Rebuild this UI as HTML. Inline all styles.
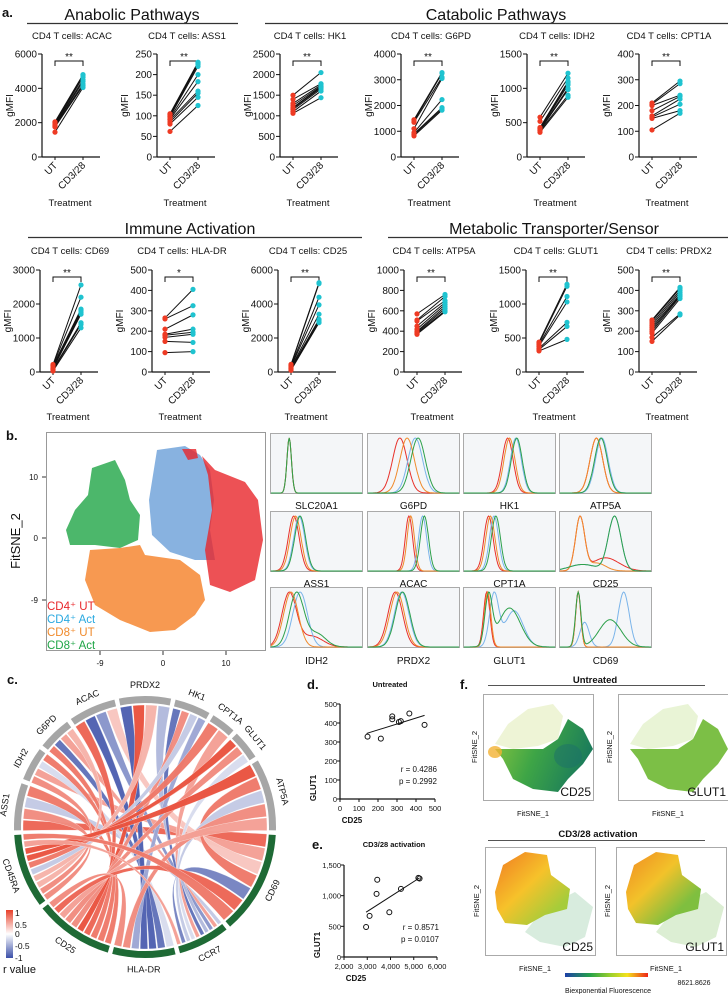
<!DOCTYPE html>
<html><head><meta charset="utf-8"><style>
html,body{margin:0;padding:0;background:#fff}
svg{display:block;font-family:"Liberation Sans",sans-serif}
</style></head><body>
<svg id="fig" width="728" height="994" viewBox="0 0 728 994" xmlns="http://www.w3.org/2000/svg">
<defs>
<linearGradient id="cbar" x1="0" x2="1" y1="0" y2="0"><stop offset="0" stop-color="#1d3fa8"/><stop offset="0.3" stop-color="#25a24a"/><stop offset="0.55" stop-color="#9cd02c"/><stop offset="0.75" stop-color="#f4e21c"/><stop offset="1" stop-color="#ee2418"/></linearGradient>
<linearGradient id="rbar" x1="0" x2="0" y1="0" y2="1"><stop offset="0" stop-color="#e8402a"/><stop offset="0.5" stop-color="#ffffff"/><stop offset="1" stop-color="#3b4fa8"/></linearGradient>
<linearGradient id="ucd25" x1="0" x2="1" y1="0" y2="0.3"><stop offset="0" stop-color="#8cc63f"/><stop offset="0.5" stop-color="#3ea546"/><stop offset="1" stop-color="#1c7d5a"/></linearGradient>
<linearGradient id="act" x1="0" x2="1" y1="0" y2="1"><stop offset="0" stop-color="#f07a22"/><stop offset="0.45" stop-color="#f6c22a"/><stop offset="0.8" stop-color="#a6cc3a"/></linearGradient>
<linearGradient id="act2" x1="0" x2="1" y1="0" y2="1"><stop offset="0" stop-color="#f08a22"/><stop offset="0.4" stop-color="#f2c22a"/><stop offset="0.75" stop-color="#7fbf3f"/></linearGradient>
</defs>
<g id="root"></g>
</svg>
<script>
// ---------- Panel a data ----------
const acacUT=[1450,1750,1800,1850,1900,1950,2000,2050];
const acacCD=[4050,4150,4250,4400,4500,4650,4750,4800];
const acacTicks=[0,2000,4000,6000];
const ass1UT=[62,80,85,90,92,95,98,100,103,105];
const ass1CD=[125,145,155,160,183,200,220,225,228,230];
const ass1Ticks=[0,50,100,150,200,250];
const hk1UT=[1060,1100,1150,1180,1200,1250,1300,1400,1500];
const hk1CD=[1440,1600,1650,1680,1700,1720,1750,1780,2050];
const hk1Ticks=[0,500,1000,1500,2000,2500];
const g6pdUT=[820,870,900,950,1100,1350,1400,1450];
const g6pdCD=[1820,1870,1920,2230,3050,3100,3250,3280];
const g6pdTicks=[0,1000,2000,3000,4000];
const idh2UT=[360,380,390,400,410,420,430,520,580];
const idh2CD=[870,900,980,1000,1050,1080,1100,1150,1220];
const idh2Ticks=[0,500,1000,1500];
const cpt1aUT=[105,150,155,160,180,200,205,210];
const cpt1aCD=[170,180,205,225,235,240,285,295];
const cpt1aTicks=[0,100,200,300,400];
const cd69UT=[30,60,80,100,120,150,180,200,220];
const cd69CD=[1300,1400,1450,1700,1750,1800,1850,2200,2560];
const cd69Ticks=[0,1000,2000,3000];
const hladrUT=[95,150,170,180,185,210,260,265];
const hladrCD=[100,145,185,195,210,280,325,405];
const hladrTicks=[0,100,200,300,400,500];
const cd25UT=[100,150,200,250,300,350,400,450];
const cd25CD=[2900,3000,3100,3400,3950,4400,5200,5250];
const cd25Ticks=[0,2000,4000,6000];
const atp5aUT=[370,380,390,400,420,450,500,510,570];
const atp5aCD=[590,600,620,640,660,680,700,740,760];
const atp5aTicks=[0,200,400,600,800,1000];
const glut1UT=[310,330,350,380,400,420,440];
const glut1CD=[480,670,730,1030,1110,1260,1290];
const glut1Ticks=[0,500,1000,1500];
const prdx2UT=[150,170,190,200,210,220,230,240,250,255];
const prdx2CD=[280,285,360,370,375,380,390,400,410,415];
const prdx2Ticks=[0,100,200,300,400,500];

// ---------- Panel d/e data ----------
const dCD25=[145,215,275,275,310,320,365,445];
const dGLUT1=[328,318,435,420,405,410,450,390];
const dFit=[[140,345],[445,440]];
const dXTicks=[0,100,200,300,400,500];
const dYTicks=[0,100,200,300,400,500];
const eCD25=[2950,3100,3400,3430,3950,4450,5200,5250];
const eGLUT1=[490,670,1030,1260,730,1110,1290,1280];
const eFit=[[2950,730],[5250,1290]];
const eXTicks=[2000,3000,4000,5000,6000];
const eYTicks=[0,500,1000,1500];

// ---------- Panel b histogram data (mixtures: [mu, sd, weight]) ----------
const histMarkers=["SLC20A1","G6PD","HK1","ATP5A","ASS1","ACAC","CPT1A","CD25","IDH2","PRDX2","GLUT1","CD69"];
const histRed=[[[.2,.025,1]],[[.35,.08,1]],[[.48,.06,1]],[[.4,.07,1]],[[.25,.06,1]],[[.45,.04,1]],[[.27,.05,1]],[[.22,.05,1],[.5,.15,.25]],[[.2,.08,1],[.45,.12,.2]],[[.3,.08,1]],[[.25,.035,1]],[[.2,.028,1]]];
const histBlue=[[[.2,.025,1]],[[.52,.08,1]],[[.57,.06,1]],[[.46,.07,1]],[[.31,.06,1]],[[.6,.045,1]],[[.33,.05,1]],[[.6,.07,1],[.25,.15,.12]],[[.32,.08,1]],[[.37,.08,1]],[[.33,.05,1],[.55,.1,.7]],[[.27,.05,.45],[.7,.06,1]]];
const histOrange=[[[.2,.025,1]],[[.43,.08,1]],[[.5,.06,1]],[[.4,.07,1]],[[.27,.06,1]],[[.47,.04,1]],[[.29,.05,1]],[[.22,.05,1],[.4,.1,.15]],[[.22,.08,1]],[[.32,.08,1]],[[.26,.035,1]],[[.2,.028,1]]];
const histGreen=[[[.2,.025,1]],[[.55,.08,1]],[[.58,.06,1]],[[.45,.07,1]],[[.32,.06,1]],[[.62,.045,1]],[[.35,.05,1]],[[.6,.07,1],[.25,.15,.12]],[[.28,.08,1],[.5,.1,.25]],[[.38,.08,1]],[[.27,.04,1],[.5,.12,.8]],[[.2,.03,1],[.55,.12,.5]]];

// ---------- Panel c chord data ----------
const chordSegments=["ASS1","IDH2","G6PD","ACAC","PRDX2","HK1","CPT1A","GLUT1","ATP5A","CD69","CCR7","HLA-DR","CD25","CD45RA"];
const chordFrom=["ASS1","ASS1","ASS1","ASS1","IDH2","IDH2","IDH2","IDH2","G6PD","G6PD","G6PD","G6PD","ACAC","ACAC","ACAC","ACAC","PRDX2","PRDX2","PRDX2","PRDX2","HK1","HK1","HK1","HK1","CPT1A","CPT1A","GLUT1","GLUT1","GLUT1","ATP5A","ATP5A","ATP5A","ATP5A","ATP5A","CD69","CD69","HLA-DR","CD45RA","CD45RA"];
const chordTo=["CD69","CD45RA","CCR7","CD25","CD45RA","CD69","HLA-DR","CD25","CD25","HLA-DR","CCR7","CD45RA","CD25","HLA-DR","CCR7","CD69","HLA-DR","CD25","CD45RA","CCR7","CCR7","CD25","CD45RA","HLA-DR","CD45RA","CCR7","CD45RA","CD25","CCR7","CD45RA","CD69","CCR7","HLA-DR","CD25","CCR7","CD25","CD25","CCR7","CD69"];
const chordR=[0.8,0.6,-0.3,0.7,0.6,0.5,-0.2,0.7,0.7,-0.8,0.5,0.4,0.8,-0.9,-0.6,0.3,-0.9,0.9,0.4,-0.4,-0.8,0.6,-0.3,-0.5,0.7,0.5,0.9,0.6,-0.2,0.9,0.7,-0.3,0.6,0.5,-0.7,0.8,0.6,0.5,0.7];

const NS="http://www.w3.org/2000/svg";
const root=document.getElementById('root');
function mk(tag,attrs,parent,text){const e=document.createElementNS(NS,tag);for(const k in attrs)e.setAttribute(k,attrs[k]);if(text!==undefined)e.textContent=text;(parent||root).appendChild(e);return e;}
function T(x,y,s,size,anchor,parent,extra){const a={x:x,y:y,'font-size':size,'text-anchor':anchor||'start',fill:'#111'};if(extra)for(const k in extra)a[k]=extra[k];return mk('text',a,parent,s);}

// ---------- Panel a ----------
const gA=mk('g',{});


T(2,17,'a.',13,'start',gA,{'font-weight':'bold'});
T(132,20,'Anabolic Pathways',16,'middle',gA);
T(496,20,'Catabolic Pathways',16,'middle',gA);
T(190,234,'Immune Activation',16,'middle',gA);
T(554,234,'Metabolic Transporter/Sensor',16,'middle',gA);
mk('line',{x1:27,x2:238,y1:23.5,y2:23.5,stroke:'#333','stroke-width':1.2},gA);
mk('line',{x1:265,x2:728,y1:23.5,y2:23.5,stroke:'#333','stroke-width':1.2},gA);
mk('line',{x1:28,x2:362,y1:237.5,y2:237.5,stroke:'#333','stroke-width':1.2},gA);
mk('line',{x1:388,x2:728,y1:237.5,y2:237.5,stroke:'#333','stroke-width':1.2},gA);

function subplot(name,ax,row,ut,cd,ticks,sig){
  const g=mk('g',{},gA);
  
  
  const yTop=row?270:54,yBot=row?372:157,ymax=ticks[ticks.length-1];
  const y=v=>yBot-v/ymax*(yBot-yTop);
  const xU=ax+13,xC=ax+41;
  T(ax+30,row?254:39,'CD4 T cells: '+name,9.5,'middle',g);
  mk('line',{x1:ax,x2:ax,y1:yTop,y2:yBot,stroke:'#111','stroke-width':1.2},g);
  mk('line',{x1:ax,x2:ax+58,y1:yBot,y2:yBot,stroke:'#111','stroke-width':1.2},g);
  ticks.forEach(t=>{mk('line',{x1:ax-4,x2:ax,y1:y(t),y2:y(t),stroke:'#111'},g);T(ax-5,y(t)+3.5,String(t),10,'end',g);});
  [xU,xC].forEach(x=>mk('line',{x1:x,x2:x,y1:yBot,y2:yBot+3,stroke:'#111'},g));
  T(0,0,'gMFI',10,'middle',g,{transform:`translate(${ax-29},${(yTop+yBot)/2}) rotate(-90)`});
  T(0,0,'UT',10,'end',g,{transform:`translate(${xU+3},${yBot+9}) rotate(-45)`});
  T(0,0,'CD3/28',10,'end',g,{transform:`translate(${xC+3},${yBot+9}) rotate(-45)`});
  T(ax+28,row?420:206,'Treatment',9.5,'middle',g);
  const by=yTop+7;
  mk('path',{d:`M${xU},${by+5}V${by}H${xC}V${by+5}`,fill:'none',stroke:'#111','stroke-width':1},g);
  T((xU+xC)/2,by-1,sig,10,'middle',g);
  for(let i=0;i<ut.length;i++){
    const l=mk('line',{x1:xU,y1:y(ut[i]),x2:xC,y2:y(cd[i]),stroke:'#111','stroke-width':1},g);
    
    
  }
  ut.forEach(v=>{const c=mk('circle',{cx:xU,cy:y(v),r:2.6,fill:'#ee3b24'},g);});
  cd.forEach(v=>{const c=mk('circle',{cx:xC,cy:y(v),r:2.6,fill:'#1fc3d0'},g);});
}
subplot('ACAC',42,0,acacUT,acacCD,acacTicks,'**');
subplot('ASS1',157,0,ass1UT,ass1CD,ass1Ticks,'**');
subplot('HK1',280,0,hk1UT,hk1CD,hk1Ticks,'**');
subplot('G6PD',401,0,g6pdUT,g6pdCD,g6pdTicks,'**');
subplot('IDH2',527,0,idh2UT,idh2CD,idh2Ticks,'**');
subplot('CPT1A',639,0,cpt1aUT,cpt1aCD,cpt1aTicks,'**');
subplot('CD69',40,1,cd69UT,cd69CD,cd69Ticks,'**');
subplot('HLA-DR',152,1,hladrUT,hladrCD,hladrTicks,'*');
subplot('CD25',278,1,cd25UT,cd25CD,cd25Ticks,'**');
subplot('ATP5A',404,1,atp5aUT,atp5aCD,atp5aTicks,'**');
subplot('GLUT1',526,1,glut1UT,glut1CD,glut1Ticks,'**');
subplot('PRDX2',639,1,prdx2UT,prdx2CD,prdx2Ticks,'**');

// ---------- Panel b: tSNE ----------
const gB=mk('g',{});


T(6,440,'b.',13,'start',gB,{'font-weight':'bold'});
mk('rect',{x:46.5,y:432.5,width:219,height:218,fill:'#fff',stroke:'#999'},gB);
const blobs=[
 ['#1fa546','M92,468L115,460L125,480L130,500L140,515L138,540L120,548L95,545L70,545L66,530L75,510L88,495Z','cd8-act-cluster'],
 ['#6a9fd8','M157,450L185,446L200,455L210,470L214,500L210,530L215,560L195,560L170,552L152,535L149,500L153,475Z','cd4-act-cluster'],
 ['#e8262a','M202,456L215,470L245,482L258,500L263,540L255,580L230,592L210,585L205,550L212,510L208,475Z','cd4-ut-cluster'],
 ['#e8262a','M182,449L196,449L198,458L188,460Z','cd4-ut-cluster-top'],
 ['#f58025','M90,550L120,548L140,545L145,555L180,560L200,575L205,600L195,615L175,630L150,632L120,620L95,605L85,580Z','cd8-ut-cluster']];
blobs.forEach(b=>{const p=mk('path',{d:b[1],fill:b[0],opacity:0.8},gB);});
[[477,'10'],[538,'0'],[600,'-9']].forEach(t=>{mk('line',{x1:42,x2:46,y1:t[0],y2:t[0],stroke:'#333'},gB);T(38,t[0]+3,t[1],8,'end',gB);});
[[100,'-9'],[163,'0'],[226,'10']].forEach(t=>{mk('line',{x1:t[0],x2:t[0],y1:651,y2:655,stroke:'#333'},gB);T(t[0],666,t[1],8,'middle',gB);});
T(0,0,'FitSNE_2',13,'middle',gB,{transform:'translate(20,541) rotate(-90)'});
[['CD4⁺ UT','#e8262a',610],['CD4⁺ Act','#2aa9e0',623],['CD8⁺ UT','#f08a2b',636],['CD8⁺ Act','#1fa546',649]].forEach(l=>{const t=T(47,l[2],l[0],11.5,'start',gB,{fill:l[1]});});

// histograms
const hCols=[270,367,463,559],hRows=[[433,494,506],[511,572,584],[587,648,661]],hW=93;
const hColors=['#e8312a','#7ab4ea','#f08a2b','#2ca04a'];
function mix(m,x){let s=0;m.forEach(c=>{s+=c[2]*Math.exp(-0.5*Math.pow((x-c[0])/c[1],2));});return s;}
histMarkers.forEach((name,i)=>{
  const col=i%4,row=Math.floor(i/4),x0=hCols[col],[y0,y1,ly]=hRows[row];
  const g=mk('g',{},gB);
  
  
  mk('rect',{x:x0+.5,y:y0+.5,width:hW-1,height:y1-y0-1,fill:'#f4f6f8',stroke:'#aaa'},g);
  [histRed[i],histBlue[i],histOrange[i],histGreen[i]].forEach((m,k)=>{
    let mx=0;for(let s=0;s<=100;s++)mx=Math.max(mx,mix(m,s/100));
    let d='';for(let s=0;s<=100;s++){const xx=x0+1+s/100*(hW-2),yy=y1-1-mix(m,s/100)/mx*(y1-y0-6);d+=(s?'L':'M')+xx.toFixed(1)+','+yy.toFixed(1);}
    const p=mk('path',{d:d,fill:'none',stroke:hColors[k],'stroke-width':1},g);
    
    
  });
  T(x0+hW/2,ly+3,name,10,'middle',g);
});

// ---------- Panel c: chord ----------
const gC=mk('g',{});


T(7,684,'c.',13,'start',gC,{'font-weight':'bold'});
const CX=145,CY=827,RI=123,RO=131;
const segStart=[-92,-69,-52,-35,-12,13,31,44,59,93,141,166,196,233];
const segEnd=[-70,-53,-36,-13,12,30,43,58,92,140,165,195,232,267];
const pt=(a,r)=>[CX+r*Math.sin(a*Math.PI/180),CY-r*Math.cos(a*Math.PI/180)];
function rColor(r){const a=[232,64,42],w=[255,255,255],b=[59,79,168];const t=Math.abs(r),c=r>=0?a:b;return `rgb(${Math.round(w[0]+(c[0]-w[0])*t)},${Math.round(w[1]+(c[1]-w[1])*t)},${Math.round(w[2]+(c[2]-w[2])*t)})`;}
const counts=chordSegments.map(s=>chordFrom.filter(v=>v===s).length+chordTo.filter(v=>v===s).length);
const used=chordSegments.map(()=>0);
function slot(s){const i=chordSegments.indexOf(s),w=(segEnd[i]-segStart[i])/counts[i],a=segStart[i]+used[i]*w;used[i]++;return [a+0.3,a+w-0.3];}
for(let k=0;k<chordFrom.length;k++){
  const [a1,a2]=slot(chordFrom[k]),[b1,b2]=slot(chordTo[k]);
  const p1=pt(a1,RI-1),p2=pt(a2,RI-1),p3=pt(b1,RI-1),p4=pt(b2,RI-1);
  const d=`M${p1}A${RI-1},${RI-1} 0 0 1 ${p2}Q${CX},${CY} ${p3}A${RI-1},${RI-1} 0 0 1 ${p4}Q${CX},${CY} ${p1}Z`;
  const p=mk('path',{d:d,fill:rColor(chordR[k]),stroke:'#fff','stroke-width':0.3,opacity:0.97},gC);
  
  
}
chordSegments.forEach((s,i)=>{
  const a=segStart[i]+0.5,b=segEnd[i]-0.5,big=(b-a)>180?1:0;
  const o1=pt(a,RO),o2=pt(b,RO),i2=pt(b,RI+1),i1=pt(a,RI+1);
  const p=mk('path',{d:`M${o1}A${RO},${RO} 0 ${big} 1 ${o2}L${i2}A${RI+1},${RI+1} 0 ${big} 0 ${i1}Z`,fill:i<9?'#a6a6a6':'#1e6a35'},gC);
  
  
  const m=(segStart[i]+segEnd[i])/2,lp=pt(m,RO+8),rot=(m>90&&m<270)?m+180:m;
  T(0,0,s,9,'middle',gC,{transform:`translate(${lp[0]},${lp[1]}) rotate(${rot})`,'dominant-baseline':(m>90&&m<270)?'hanging':'auto'});
});
mk('rect',{x:6,y:910,width:7,height:48,fill:'url(#rbar)'},gC);
[['1',913],['0.5',925],['0',934],['-0.5',946],['-1',958]].forEach(l=>T(15,l[1]+3,l[0],8.5,'start',gC));
T(3,973,'r value',11,'start',gC);

// ---------- Panel d / e: scatter ----------
function scatter(tag,title,xs,ys,fit,xt,yt,ax,ay0,ay1,xr,yr,rtext,ptext,tx,ty,xfmt,labelY){
  const g=mk('g',{});
  
  
  const X=v=>ax[0]+(v-xr[0])/(xr[1]-xr[0])*(ax[1]-ax[0]);
  const Y=v=>ay0-(v-yr[0])/(yr[1]-yr[0])*(ay0-ay1);
  T(tx,ty,tag+'.',13,'start',g,{'font-weight':'bold'});
  T(ax[0]+50,ty-2,title,7.5,'middle',g,{'font-weight':'bold'});
  mk('line',{x1:ax[0],x2:ax[0],y1:ay1,y2:ay0,stroke:'#111','stroke-width':1.2},g);
  mk('line',{x1:ax[0],x2:ax[1],y1:ay0,y2:ay0,stroke:'#111','stroke-width':1.2},g);
  yt.forEach(t=>{mk('line',{x1:ax[0]-3,x2:ax[0],y1:Y(t),y2:Y(t),stroke:'#111'},g);T(ax[0]-3,Y(t)+3,xfmt(t),7.5,'end',g);});
  xt.forEach(t=>{mk('line',{x1:X(t),x2:X(t),y1:ay0,y2:ay0+3,stroke:'#111'},g);T(X(t),ay0+12,xfmt(t),7.5,'middle',g);});
  mk('line',{x1:X(fit[0][0]),y1:Y(fit[0][1]),x2:X(fit[1][0]),y2:Y(fit[1][1]),stroke:'#111','stroke-width':1},g);
  xs.forEach((v,i)=>{const c=mk('circle',{cx:X(v),cy:Y(ys[i]),r:2.5,fill:'none',stroke:'#111','stroke-width':1},g);});
  T(0,0,'GLUT1',8,'middle',g,{transform:`translate(${ax[0]-24},${labelY}) rotate(-90)`,'font-weight':'bold'});
  T(ax[0]+12,ay0+24,'CD25',8,'middle',g,{'font-weight':'bold'});
  T(ax[1]+2,ay0-27,rtext,8,'end',g);T(ax[1]+2,ay0-15,ptext,8,'end',g);
}
scatter('d','Untreated',dCD25,dGLUT1,dFit,dXTicks,dYTicks,[340,435],799,704,[0,500],[0,500],'r = 0.4286','p = 0.2992',307,689,v=>String(v),788);
scatter('e','CD3/28 activation',eCD25,eGLUT1,eFit,eXTicks,eYTicks,[344,437],957,865,[2000,6000],[0,1500],'r = 0.8571','p = 0.0107',312,849,v=>v.toLocaleString('en-US'),945);

// ---------- Panel f ----------
const gF=mk('g',{});


T(460,689,'f.',13,'start',gF,{'font-weight':'bold'});
T(595,683,'Untreated',9.5,'middle',gF,{'font-weight':'bold'});
mk('line',{x1:488,x2:705,y1:685.5,y2:685.5,stroke:'#555'},gF);
T(598,837,'CD3/28 activation',9.5,'middle',gF,{'font-weight':'bold'});
mk('line',{x1:488,x2:705,y1:840.5,y2:840.5,stroke:'#555'},gF);
const uShape='M35,55L60,55L75,45L85,25L100,35L110,55L100,70L85,85L75,98L50,95L30,85L20,65L12,55Z';
const uSparse='M12,50L25,30L45,15L70,10L80,22L75,45L55,52L30,55Z';
const aShape='M10,45L18,18L40,5L62,8L66,28L85,42L82,62L60,68L42,78L20,76L12,62Z';
const aSparse='M60,60L90,45L108,60L100,90L80,100L55,95L40,85Z';
function tsneBox(name,x,y,w,h,fillMain,fillSparse,shape,sparse,label,extra){
  const g=mk('g',{transform:`translate(${x},${y})`},gF);
  
  
  mk('rect',{x:.5,y:.5,width:w,height:h,fill:'#fff',stroke:'#aaa'},g);
  mk('path',{d:sparse,fill:fillSparse,opacity:0.35},g);
  mk('path',{d:shape,fill:fillMain},g);
  if(extra)extra(g);
  T(w-2,h-4,label,12,'end',g);
  T(0,0,'FitSNE_2',7.5,'middle',g,{transform:`translate(-6,${h/2}) rotate(-90)`});
  T(w/2-5,h+16,'FitSNE_1',7.5,'middle',g);
}
tsneBox('untreated-cd25',483,694,110,106,'url(#ucd25)','#cfe08a',uShape,uSparse,'CD25',g=>{mk('ellipse',{cx:12,cy:58,rx:7,ry:6,fill:'#f2b233',opacity:.8},g);mk('ellipse',{cx:85,cy:62,rx:14,ry:12,fill:'#1b6f6a',opacity:.5},g);});
tsneBox('untreated-glut1',618,694,110,106,'#7cbf46','#bfe08a',uShape,uSparse,'GLUT1');
tsneBox('activated-cd25',485,847,110,108,'url(#act)','#8fc8a0',aShape,aSparse,'CD25');
tsneBox('activated-glut1',616,847,110,108,'url(#act2)','#9ccf80',aShape,aSparse,'GLUT1');
mk('rect',{x:565,y:973,width:83,height:4,fill:'url(#cbar)'},gF);
T(694,985,'8621.8626',7,'middle',gF);
T(608,993,'Biexponential Fluorescence',7,'middle',gF);
</script>
</body></html>
